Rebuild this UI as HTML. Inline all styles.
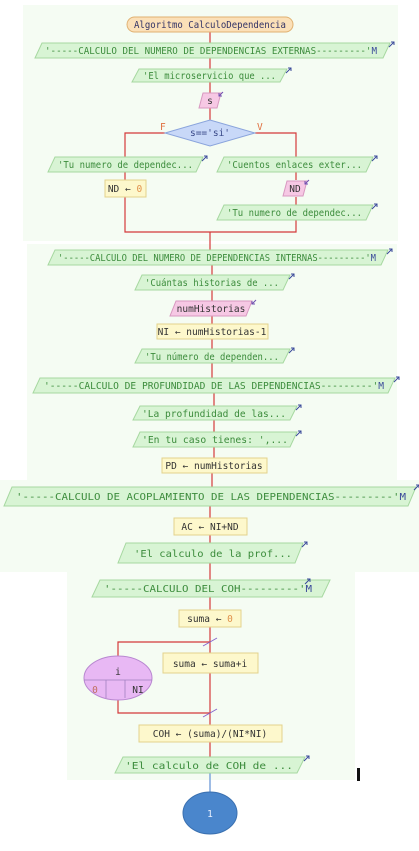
<!DOCTYPE html>
<html><head><meta charset="utf-8"><style>
html,body{margin:0;padding:0;background:#fff;width:419px;height:851px;overflow:hidden}
svg{display:block}
text{font-family:"DejaVu Sans Mono","Liberation Mono",monospace;font-size:9.5px}
.g{fill:#3c8c3c}.d{fill:#333}.p{fill:#d8f4d4;stroke:#a6d8a0;stroke-width:1}
.y{fill:#fdf8cc;stroke:#e2d28c;stroke-width:1}.k{fill:#f6c8e4;stroke:#d898c0;stroke-width:1}
.l{stroke:#d43a3a;stroke-width:1.2;fill:none}
</style></head><body>
<svg width="419" height="851" viewBox="0 0 419 851" xmlns="http://www.w3.org/2000/svg">
<rect x="23" y="5" width="375" height="236" fill="#f5fcf3"/>
<rect x="27" y="244" width="370" height="236" fill="#f5fcf3"/>
<rect x="0" y="480" width="419" height="92" fill="#f5fcf3"/>
<rect x="67" y="572" width="288" height="208" fill="#f5fcf3"/>
<path class="l" d="M210 32V43M210 58V69M210 82V93M210 108V120M210 232V250M212 265V275M212 290V301M212 316V324M212 339V349M212 363V378M214 393V406M214 420V432M214 447V458M212 473V487M210 506V518M210 535V543M210 563V580M210 597V610M210 627V653M210 673V725M210 742V757"/>
<path class="l" d="M165 133H125V157M255 133H296V157M125 172V180M125 197V232H296V220M296 172V180M296 197V205"/>
<path class="l" d="M210 642H118V656M118 700V713H210"/>
<path d="M203 646L217 638M203 717L217 709" stroke="#8866cc" stroke-width="1"/>
<path d="M210 773V800" stroke="#7fa6dc" stroke-width="1.5"/>
<path d="M204 793L210 800L216 793" stroke="#7fa6dc" stroke-width="1.5" fill="none"/>
<rect x="127" y="17" width="166" height="15" rx="7.5" fill="#fbe0b8" stroke="#e0b070"/>
<text x="134" y="28" textLength="152" lengthAdjust="spacingAndGlyphs" fill="#333366">Algoritmo CalculoDependencia</text>
<polygon class="p" points="42,43 390,43 383,58 35,58"/><text x="45" y="54" textLength="332" lengthAdjust="spacingAndGlyphs" class="g">'-----CALCULO DEL NUMERO DE DEPENDENCIAS EXTERNAS---------'<tspan fill="#3a4a9a">M</tspan></text>
<polygon class="p" points="139,69 287,69 280,82 132,82"/><text x="143" y="79" textLength="133" lengthAdjust="spacingAndGlyphs" class="g">'El microservicio que ...</text>
<polygon class="k" points="203,93 221,93 217,108 199,108"/><text x="210" y="104" text-anchor="middle" class="d">s</text>
<polygon points="210,120 255,133 210,146 165,133" fill="#c8d8f8" stroke="#8aa4dc"/><text x="210" y="136" text-anchor="middle" fill="#3a4a8a">s=='si'</text>
<text x="160" y="130" fill="#e07040" font-size="7">F</text><text x="257" y="130" fill="#e07040" font-size="7">V</text>
<polygon class="p" points="55,157 203,157 196,172 48,172"/><text x="58" y="168" textLength="135" lengthAdjust="spacingAndGlyphs" class="g">'Tu numero de dependec...</text>
<polygon class="p" points="224,157 373,157 366,172 217,172"/><text x="227" y="168" textLength="135" lengthAdjust="spacingAndGlyphs" class="g">'Cuentos enlaces exter...</text>
<rect class="y" x="105" y="180" width="41" height="17"/><text x="125" y="192" text-anchor="middle" class="d">ND ← <tspan fill="#e0904a">0</tspan></text>
<polygon class="k" points="287,181 307,181 303,196 283,196"/><text x="295" y="192" text-anchor="middle" class="d">ND</text>
<polygon class="p" points="224,205 373,205 366,220 217,220"/><text x="227" y="216" textLength="135" lengthAdjust="spacingAndGlyphs" class="g">'Tu numero de dependec...</text>
<polygon class="p" points="55,250 388,250 381,265 48,265"/><text x="58" y="261" textLength="318" lengthAdjust="spacingAndGlyphs" class="g">'-----CALCULO DEL NUMERO DE DEPENDENCIAS INTERNAS---------'<tspan fill="#3a4a9a">M</tspan></text>
<polygon class="p" points="142,275 290,275 283,290 135,290"/><text x="145" y="286" textLength="134" lengthAdjust="spacingAndGlyphs" class="g">'Cuántas historias de ...</text>
<polygon class="k" points="176,301 252,301 246,316 170,316"/><text x="211" y="312" text-anchor="middle" class="d">numHistorias</text>
<rect class="y" x="157" y="324" width="111" height="15"/><text x="212" y="335" text-anchor="middle" class="d">NI ← numHistorias-1</text>
<polygon class="p" points="142,349 290,349 283,363 135,363"/><text x="145" y="360" textLength="134" lengthAdjust="spacingAndGlyphs" class="g">'Tu número de dependen...</text>
<polygon class="p" points="40,378 395,378 388,393 33,393"/><text x="44" y="389" textLength="340" lengthAdjust="spacingAndGlyphs" class="g">'-----CALCULO DE PROFUNDIDAD DE LAS DEPENDENCIAS---------'<tspan fill="#3a4a9a">M</tspan></text>
<polygon class="p" points="140,406 297,406 290,420 133,420"/><text x="142" y="417" textLength="144" lengthAdjust="spacingAndGlyphs" class="g">'La profundidad de las...</text>
<polygon class="p" points="140,432 297,432 290,447 133,447"/><text x="142" y="443" textLength="146" lengthAdjust="spacingAndGlyphs" class="g">'En tu caso tienes: ',...</text>
<rect class="y" x="162" y="458" width="105" height="15"/><text x="214" y="469" text-anchor="middle" class="d">PD ← numHistorias</text>
<polygon class="p" points="12,487 416,487 408,506 4,506"/><text x="16" y="500" textLength="390" lengthAdjust="spacingAndGlyphs" class="g" font-size="10.5">'-----CALCULO DE ACOPLAMIENTO DE LAS DEPENDENCIAS---------'<tspan fill="#3a4a9a">M</tspan></text>
<rect class="y" x="174" y="518" width="73" height="17"/><text x="210" y="530" text-anchor="middle" class="d" font-size="10.5">AC ← NI+ND</text>
<polygon class="p" points="126,543 303,543 295,563 118,563"/><text x="134" y="557" textLength="158" lengthAdjust="spacingAndGlyphs" class="g" font-size="11">'El calculo de la prof...</text>
<polygon class="p" points="100,580 330,580 322,597 92,597"/><text x="104" y="592" textLength="208" lengthAdjust="spacingAndGlyphs" class="g" font-size="10.5">'-----CALCULO DEL COH---------'<tspan fill="#3a4a9a">M</tspan></text>
<rect class="y" x="179" y="610" width="62" height="17"/><text x="210" y="622" text-anchor="middle" class="d" font-size="10.5">suma ← <tspan fill="#e0904a">0</tspan></text>
<rect class="y" x="163" y="653" width="95" height="20"/><text x="210" y="667" text-anchor="middle" class="d" font-size="10.5">suma ← suma+i</text>
<ellipse cx="118" cy="678" rx="34" ry="22" fill="#e8b8f4" stroke="#b888d0"/>
<path d="M84 680H152M106 680V698M125 680V698" stroke="#a080c0" stroke-width="0.8"/>
<text x="118" y="675" text-anchor="middle" class="d" font-size="10">i</text>
<text x="95" y="693" text-anchor="middle" fill="#c07060" font-size="9.5">0</text>
<text x="138" y="693" text-anchor="middle" class="d" font-size="9.5">NI</text>
<rect class="y" x="139" y="725" width="143" height="17"/><text x="210" y="737" text-anchor="middle" class="d" font-size="10.5">COH ← (suma)/(NI*NI)</text>
<polygon class="p" points="123,757 305,757 297,773 115,773"/><text x="125" y="769" textLength="168" lengthAdjust="spacingAndGlyphs" class="g" font-size="11">'El calculo de COH de ...</text>
<g stroke="#3a4a9a" stroke-width="1" fill="none">
<path d="M389 47L394 42M391 42H394V45"/><path d="M286 73L291 68M288 68H291V71"/><path d="M372 161L377 156M374 156H377V159"/><path d="M202 161L207 156M204 156H207V159"/><path d="M372 209L377 204M374 204H377V207"/><path d="M387 254L392 249M389 249H392V252"/><path d="M289 279L294 274M291 274H294V277"/><path d="M289 353L294 348M291 348H294V351"/><path d="M394 382L399 377M396 377H399V380"/><path d="M296 410L301 405M298 405H301V408"/><path d="M296 436L301 431M298 431H301V434"/><path d="M414 490L419 485M416 485H419V488"/><path d="M302 547L307 542M304 542H307V545"/><path d="M305 584L310 579M307 579H310V582"/><path d="M304 761L309 756M306 756H309V759"/>
</g>
<g stroke="#7050b0" stroke-width="1" fill="none"><path d="M223 92L219 96M219 93V96H222"/><path d="M309 180L305 184M305 181V184H308"/><path d="M256 300L252 304M252 301V304H255"/></g>
<ellipse cx="210" cy="813" rx="27" ry="21" fill="#4a86cc" stroke="#3a70b0"/>
<text x="210" y="817" text-anchor="middle" fill="#e8f0ff" font-size="9">1</text>
<rect x="357" y="768" width="3" height="13" fill="#111"/>
</svg>
</body></html>
